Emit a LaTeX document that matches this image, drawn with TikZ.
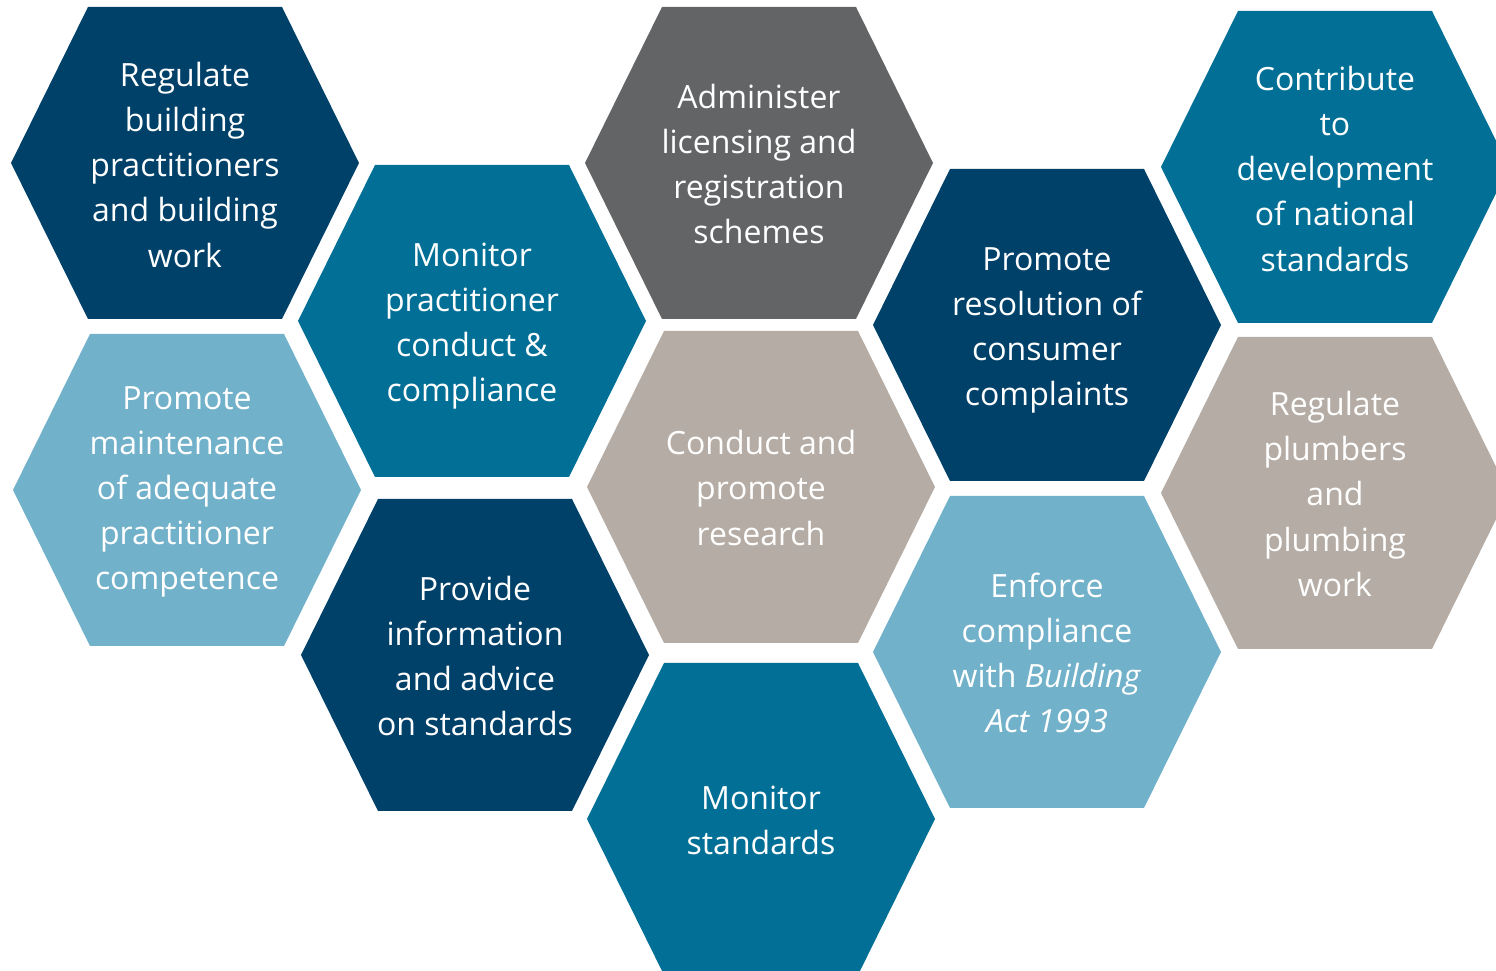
\documentclass[tikz,border=0pt]{standalone}
\usepackage{fontspec}
\setmainfont{Open Sans}
\usepackage{xcolor}
\definecolor{navy}{HTML}{00416A}
\definecolor{teal}{HTML}{027096}
\definecolor{skyblue}{HTML}{72B1CA}
\definecolor{slate}{HTML}{636466}
\definecolor{taupe}{HTML}{B5ADA5}

\begin{document}
\begin{tikzpicture}[x=0.01cm, y=-0.01cm,
    cell/.style={text=white, align=center, inner sep=0pt, font=\fontsize{9.1}{12.8}\selectfont}]
    \clip (0,0) rectangle (1496,971);

    % first column
    \fill[navy] (185,163) ++(-174,0) -- ++(77,-156) -- ++(194,0) -- ++(77,156) -- ++(-77,156) -- ++(-194,0) -- cycle;
    \fill[skyblue] (187,490) ++(-174,0) -- ++(77,-156) -- ++(194,0) -- ++(77,156) -- ++(-77,156) -- ++(-194,0) -- cycle;

    % second column
    \fill[teal] (472,321) ++(-174,0) -- ++(77,-156) -- ++(194,0) -- ++(77,156) -- ++(-77,156) -- ++(-194,0) -- cycle;
    \fill[navy] (475,655) ++(-174,0) -- ++(77,-156) -- ++(194,0) -- ++(77,156) -- ++(-77,156) -- ++(-194,0) -- cycle;

    % third column
    \fill[slate] (759,163) ++(-174,0) -- ++(77,-156) -- ++(194,0) -- ++(77,156) -- ++(-77,156) -- ++(-194,0) -- cycle;
    \fill[taupe] (761,487) ++(-174,0) -- ++(77,-156) -- ++(194,0) -- ++(77,156) -- ++(-77,156) -- ++(-194,0) -- cycle;
    \fill[teal] (761,819) ++(-174,0) -- ++(77,-156) -- ++(194,0) -- ++(77,156) -- ++(-77,156) -- ++(-194,0) -- cycle;

    % fourth column
    \fill[navy] (1047,325) ++(-174,0) -- ++(77,-156) -- ++(194,0) -- ++(77,156) -- ++(-77,156) -- ++(-194,0) -- cycle;
    \fill[skyblue] (1047,652) ++(-174,0) -- ++(77,-156) -- ++(194,0) -- ++(77,156) -- ++(-77,156) -- ++(-194,0) -- cycle;

    % fifth column
    \fill[teal] (1335,167) ++(-174,0) -- ++(77,-156) -- ++(194,0) -- ++(77,156) -- ++(-77,156) -- ++(-194,0) -- cycle;
    \fill[taupe] (1335,493) ++(-174,0) -- ++(77,-156) -- ++(194,0) -- ++(77,156) -- ++(-77,156) -- ++(-194,0) -- cycle;

    \node[cell] (regbuild) at (185,165) {Regulate\\building\\practitioners\\and building\\work};
    \node[cell] (competence) at (187,492) {Promote\\maintenance\\of adequate\\practitioner\\competence};
    \node[cell] (conduct) at (472,326) {Monitor\\practitioner\\conduct \&\\compliance};
    \node[cell] (advice) at (475,656) {Provide\\information\\and advice\\on standards};
    \node[cell] (licensing) at (759,164) {Administer\\licensing and\\registration\\schemes};
    \node[cell] (research) at (761,488) {Conduct and\\promote\\research};
    \node[cell] (monstd) at (761,820) {Monitor\\standards};
    \node[cell] (complaints) at (1047,330) {Promote\\resolution of\\consumer\\complaints};
    \node[cell] (enforce) at (1047,653) {Enforce\\compliance\\with \textit{Building}\\\textit{Act 1993}};
    \node[cell] (national) at (1335,169) {Contribute\\to\\development\\of national\\standards};
    \node[cell] (plumbing) at (1335,494) {Regulate\\plumbers\\and\\plumbing\\work};

\end{tikzpicture}
\end{document}
